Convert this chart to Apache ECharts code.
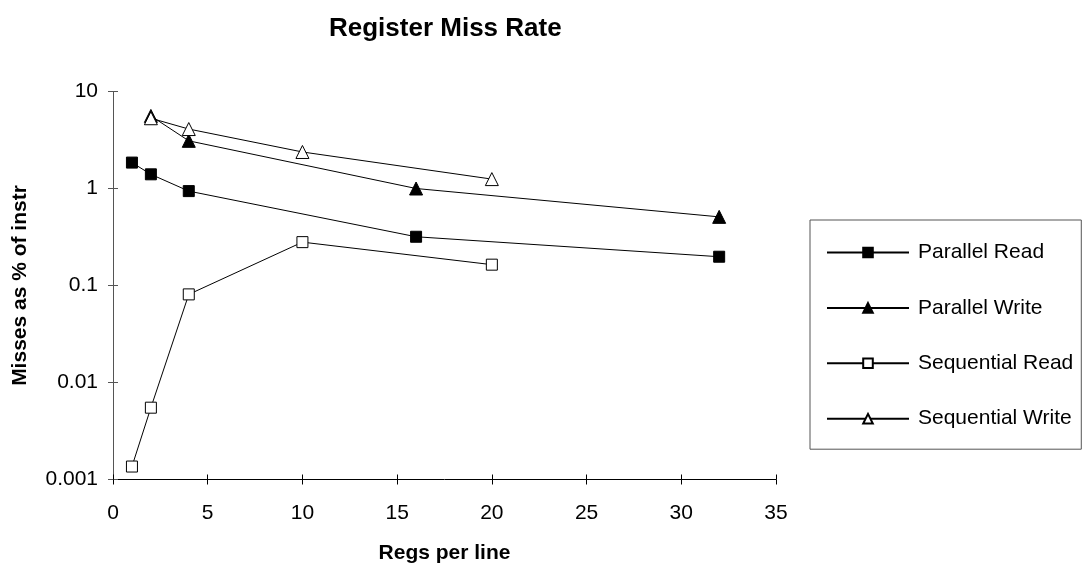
<!DOCTYPE html>
<html>
<head>
<meta charset="utf-8">
<script src="https://cdn.jsdelivr.net/npm/echarts@6/dist/echarts.min.js"></script>
<style>
  html, body { margin: 0; padding: 0; background: #fff; }
  #chart { width: 1084px; height: 569px; }
</style>
</head>
<body>
<div id="chart"></div>
<script>
// Register miss rate vs. registers per line (log scale)
const parallelReadX = [1, 2, 4, 16, 32];
const parallelReadY = [1.85, 1.40, 0.94, 0.318, 0.198];
const parallelWriteX = [2, 4, 16, 32];
const parallelWriteY = [5.6, 3.1, 1.0, 0.51];
const sequentialReadX = [1, 2, 4, 10, 20];
const sequentialReadY = [0.00136, 0.0055, 0.081, 0.28, 0.164];
const sequentialWriteX = [2, 4, 10, 20];
const sequentialWriteY = [5.3, 4.1, 2.38, 1.25];
const yTickLabels = { 0.001: '0.001', 0.01: '0.01', 0.1: '0.1', 1: '1', 10: '10' };

const FONT = '"Liberation Sans", Arial, sans-serif';
const pairs = (xs, ys) => xs.map((x, i) => [x, ys[i]]);

const chart = echarts.init(document.getElementById('chart'), null, { renderer: 'canvas' });

function lineSeries(name, xs, ys, symbol, size, filled) {
  return {
    name: name,
    type: 'line',
    data: pairs(xs, ys),
    xAxisIndex: 0,
    yAxisIndex: 0,
    symbol: symbol,
    symbolSize: size,
    showAllSymbol: true,
    lineStyle: { color: '#000', width: 1 },
    itemStyle: {
      color: filled ? '#000' : '#fff',
      borderColor: '#000',
      borderWidth: 1
    },
    emphasis: { disabled: true },
    animation: false
  };
}

chart.setOption({
  backgroundColor: '#fff',
  animation: false,
  title: {
    text: 'Register Miss Rate',
    left: 324,
    top: 11,
    textStyle: { fontFamily: FONT, fontSize: 26, fontWeight: 'bold', color: '#000' }
  },
  legend: {
    orient: 'vertical',
    left: 810,
    top: 220,
    width: 272,
    padding: [22, 8, 20, 16],
    borderColor: '#555',
    borderWidth: 1,
    itemWidth: 82,
    itemHeight: 12,
    itemGap: 34.4,
    textStyle: { fontFamily: FONT, fontSize: 21, color: '#000', padding: [0, 0, 0, 4] },
    data: ['Parallel Read', 'Parallel Write', 'Sequential Read', 'Sequential Write'],
    selectedMode: false
  },
  grid: { left: 113, right: 308, top: 91.5, bottom: 89.5, containLabel: false, outerBoundsMode: 'none' },
  xAxis: [
    {
      type: 'value',
      min: 0,
      max: 35,
      interval: 5,
      name: 'Regs per line',
      nameLocation: 'middle',
      nameGap: 63,
      nameTextStyle: { fontFamily: FONT, fontSize: 21, fontWeight: 'bold', color: '#000' },
      axisLine: { show: true, lineStyle: { color: '#000', width: 1 } },
      axisTick: { show: true, inside: false, length: 5, lineStyle: { color: '#000' } },
      axisLabel: { fontFamily: FONT, fontSize: 21, color: '#000', margin: 23 },
      splitLine: { show: false }
    },
    {
      // inner half of the crossing tick marks
      type: 'value',
      position: 'bottom',
      min: 0,
      max: 35,
      interval: 5,
      axisLine: { show: false },
      axisTick: { show: true, inside: true, length: 5, lineStyle: { color: '#000' } },
      axisLabel: { show: false },
      splitLine: { show: false }
    }
  ],
  yAxis: [
    {
      type: 'log',
      logBase: 10,
      min: 0.001,
      max: 10,
      name: 'Misses as % of instr',
      nameLocation: 'middle',
      nameGap: 82,
      nameRotate: 90,
      nameTextStyle: { fontFamily: FONT, fontSize: 21, fontWeight: 'bold', color: '#000' },
      axisLine: { show: true, lineStyle: { color: '#555', width: 1 } },
      axisTick: { show: true, inside: false, length: 5, lineStyle: { color: '#555' } },
      axisLabel: {
        fontFamily: FONT, fontSize: 21, color: '#000', margin: 15,
        formatter: v => {
          const key = Number(v.toPrecision(3));
          return yTickLabels[key] !== undefined ? yTickLabels[key] : '';
        }
      },
      splitLine: { show: false }
    },
    {
      // inner half of the crossing tick marks
      type: 'log',
      logBase: 10,
      position: 'left',
      min: 0.001,
      max: 10,
      axisLine: { show: false },
      axisTick: { show: true, inside: true, length: 5, lineStyle: { color: '#555' } },
      axisLabel: { show: false },
      splitLine: { show: false }
    }
  ],
  series: [
    lineSeries('Parallel Read', parallelReadX, parallelReadY, 'rect', 11, true),
    lineSeries('Parallel Write', parallelWriteX, parallelWriteY, 'triangle', 13, true),
    lineSeries('Sequential Read', sequentialReadX, sequentialReadY, 'rect', 11, false),
    lineSeries('Sequential Write', sequentialWriteX, sequentialWriteY, 'triangle', 13, false)
  ]
});
</script>
</body>
</html>
